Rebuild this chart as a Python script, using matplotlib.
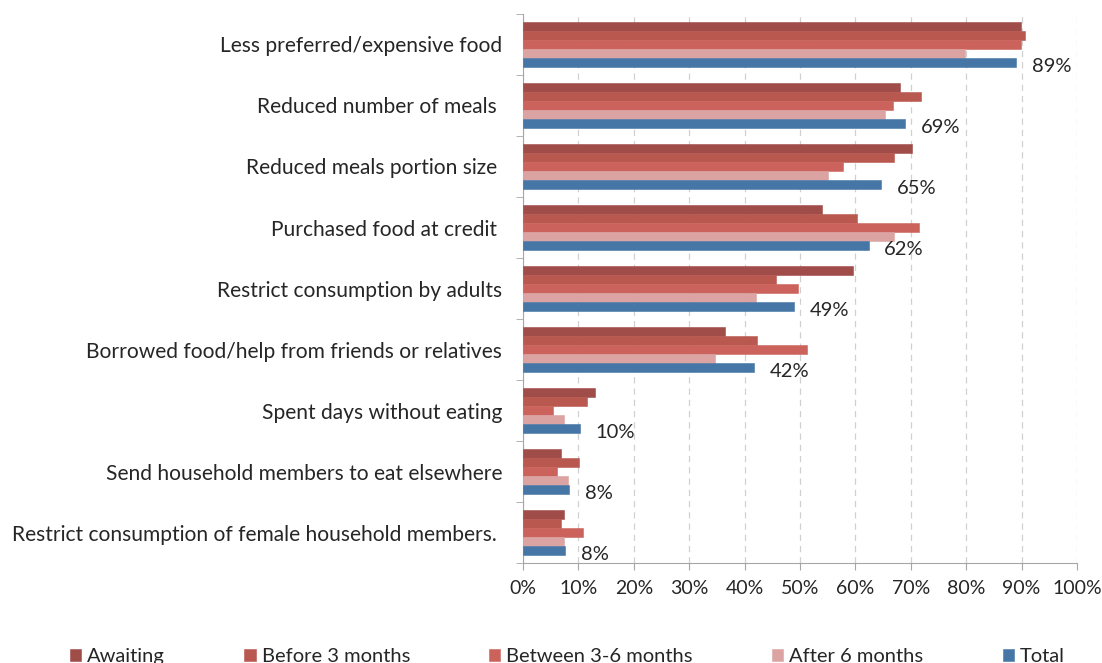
import matplotlib.pyplot as plt
import numpy as np

categories = [
    "Less preferred/expensive food",
    "Reduced number of meals ",
    "Reduced meals portion size ",
    "Purchased food at credit ",
    "Restrict consumption by adults",
    "Borrowed food/help from friends or relatives",
    "Spent days without eating",
    "Send household members to eat elsewhere",
    "Restrict consumption of female household members. ",
]

awaiting = [89.9, 68.0, 70.3, 53.9, 59.5, 36.5, 13.0, 6.9, 7.4]
before_3m = [90.6, 71.8, 67.0, 60.2, 45.6, 42.3, 11.6, 10.1, 6.9]
between_3_6m = [89.9, 66.8, 57.8, 71.4, 49.7, 51.2, 5.4, 6.1, 10.8]
after_6m = [79.7, 65.4, 55.0, 66.9, 42.1, 34.7, 7.4, 8.1, 7.4]
total = [89.0, 69.0, 64.7, 62.4, 49.0, 41.7, 10.3, 8.3, 7.6]

series_names = ["Awaiting", "Before 3 months", "Between 3-6 months", "After 6 months", "Total"]
colors = ["#A04C48", "#B9584F", "#CB635C", "#DBA4A3", "#4676A6"]

plt.rcParams['font.family'] = ['Lato', 'DejaVu Sans']
text_col = "#262626"

fig = plt.figure(figsize=(11.02, 6.63), dpi=100)
ax = fig.add_axes([0.4746, 0.1508, 0.5027, 0.8281])

series = [awaiting, before_3m, between_3_6m, after_6m, total]
y = np.arange(len(categories))
h = 0.148
for k, (vals, c) in enumerate(zip(series, colors)):
    ax.barh(y + (k - 2) * h, vals, height=h, color=c, label=series_names[k],
            edgecolor=c, linewidth=0.4, zorder=3)

for i, v in enumerate(total):
    ax.text(v + 2.8, y[i] + 2 * h + 0.07, f"{round(v)}%", va='center', ha='left',
            fontsize=14.5, color=text_col)

ax.set_xlim(0, 100)
ax.set_ylim(len(categories) - 0.5, -0.5)
ax.set_xticks(np.arange(0, 101, 10))
ax.set_xticklabels([f"{t}%" for t in range(0, 101, 10)], fontsize=14, color=text_col)
ax.set_yticks(y)
ax.set_yticklabels(categories, fontsize=15.1, color=text_col)
ax.set_yticks(np.arange(-0.5, len(categories), 1), minor=True)
ax.tick_params(axis='y', which='major', length=0, pad=15)
ax.tick_params(axis='y', which='minor', length=5, color='#a6a6a6', direction='out')
ax.tick_params(axis='x', length=5, color='#a6a6a6', pad=7)

ax.grid(axis='x', color='#d0d0d0', linestyle=(0, (5, 4)), linewidth=0.9, zorder=0)
for s in ['top', 'right']:
    ax.spines[s].set_visible(False)
for s in ['left', 'bottom']:
    ax.spines[s].set_color('#a6a6a6')

fig.legend(loc='lower center', bbox_to_anchor=(0.515, -0.03), ncol=5, frameon=False,
           fontsize=14.5, handlelength=0.55, handleheight=0.55, handletextpad=0.3,
           columnspacing=3.94, labelcolor=text_col)

fig.savefig("out.png", dpi=100)
